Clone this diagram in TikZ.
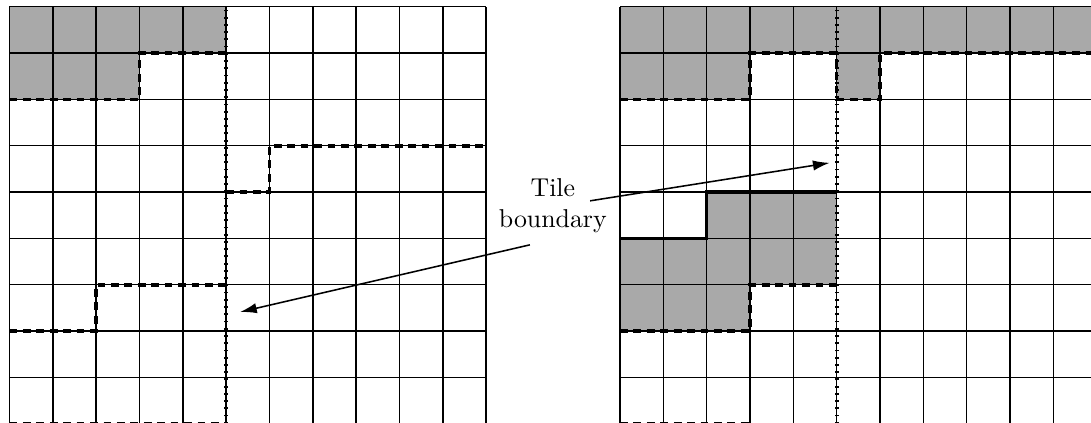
\documentclass[tikz,border=0pt]{standalone}
\usepackage{tikz}
\usetikzlibrary{arrows.meta}
\definecolor{tilegray}{RGB}{169,169,169}

\begin{document}
\begin{tikzpicture}[x=0.5894cm, y=0.6302cm, >={Latex[length=6.5pt,width=4pt]}]
	\tikzset{cellline/.style={line width=0.6pt},
		tileline/.style={line width=0.6pt, postaction={draw, line width=1.6pt, dash pattern=on 0.7pt off 2.1pt}},
		seam/.style={line width=1.4pt, dash pattern=on 3pt off 2.2pt},
		cut/.style={line width=1.3pt}}
	\useasboundingbox (-0.219,0.015) rectangle (24.96,9.145);
	\clip (-0.219,0.015) rectangle (24.96,9.145);
	% 1) left grid
	\fill[tilegray] (0,9) -- (5,9) -- (5,8) -- (3,8) -- (3,7) -- (0,7) -- cycle;
	\foreach \i in {0,...,11} \draw[cellline] (\i,0) -- (\i,9);
	\foreach \j in {0,...,9} \draw[cellline] (0,\j) -- (11,\j);
	\draw[tileline] (5,0) -- (5,9);
	\draw[seam] (0,7) -- (3,7) -- (3,8) -- (5,8);
	\draw[seam] (5,5) -- (6,5) -- (6,6) -- (11,6);
	\draw[seam] (0,2) -- (2,2) -- (2,3) -- (5,3);
	\draw[seam] (0,0) -- (5,0);
	% 2) right grid
	\begin{scope}[shift={(14.09,0)}]
		\fill[tilegray] (0,9) -- (11,9) -- (11,8) -- (6,8) -- (6,7) -- (5,7) -- (5,8) -- (3,8) -- (3,7) -- (0,7) -- cycle;
		\fill[tilegray] (2,5) -- (5,5) -- (5,3) -- (3,3) -- (3,2) -- (0,2) -- (0,4) -- (2,4) -- cycle;
		\foreach \i in {0,...,11} \draw[cellline] (\i,0) -- (\i,9);
		\foreach \j in {0,...,9} \draw[cellline] (0,\j) -- (11,\j);
		\draw[tileline] (5,0) -- (5,9);
		\draw[seam] (0,7) -- (3,7) -- (3,8) -- (5,8) -- (5,7) -- (6,7) -- (6,8) -- (11,8);
		\draw[cut] (0,4) -- (2,4) -- (2,5) -- (5,5);
		\draw[seam] (0,2) -- (3,2) -- (3,3) -- (5,3);
		\draw[seam] (0,0) -- (3,0);
	\end{scope}
	% label and arrows
	\node[align=center] (lbl) at (12.54,4.70) {Tile\\boundary};
	\coordinate (fromR) at (13.40,4.81);
	\coordinate (tipR) at (18.93,5.63);
	\coordinate (fromL) at (12.01,3.86);
	\coordinate (tipL) at (5.32,2.41);
	\draw[->, line width=0.6pt] (fromR) -- (tipR);
	\draw[->, line width=0.6pt] (fromL) -- (tipL);
\end{tikzpicture}
\end{document}
